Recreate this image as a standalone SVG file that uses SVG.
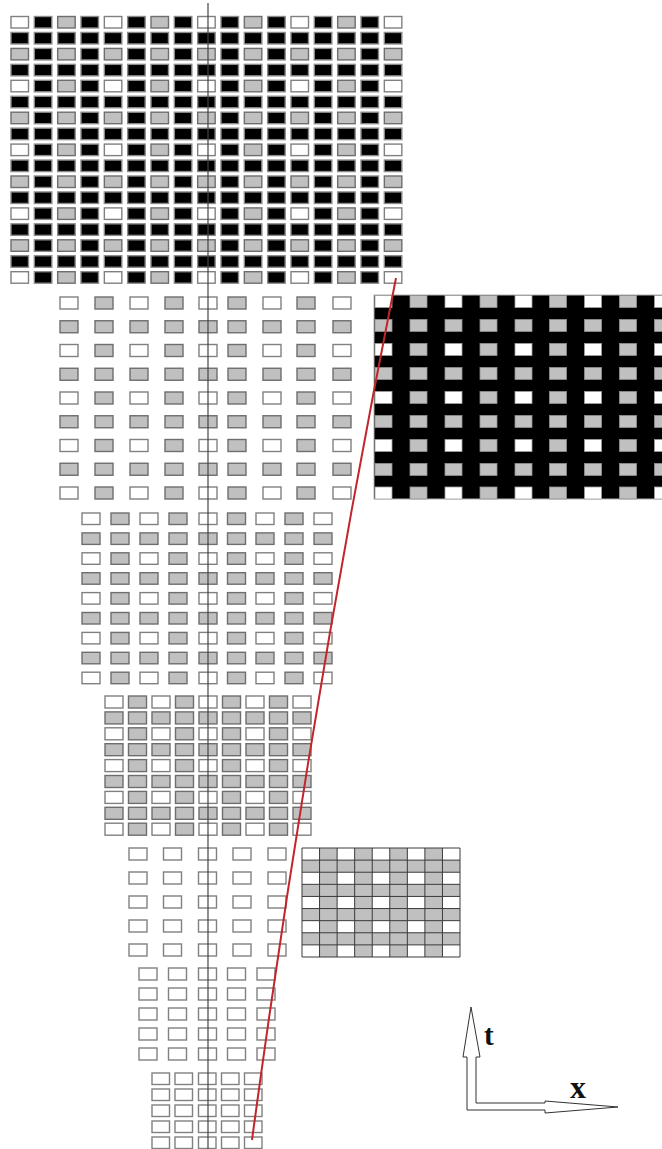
<svg xmlns="http://www.w3.org/2000/svg" xmlns:xlink="http://www.w3.org/1999/xlink" width="662" height="1149" viewBox="0 0 662 1149">
<style>
.w{fill:#fff;stroke:#808080;stroke-width:1.4}
.g{fill:#c0c0c0;stroke:#6e6e6e;stroke-width:1.4}
.k{fill:#000;stroke:#8a8a8a;stroke-width:1.4}
.rw{fill:#fff;stroke:#a0a0a0;stroke-width:0.8}
.rg{fill:#c0c0c0;stroke:#909090;stroke-width:0.8}
.lbl{font-family:"Liberation Serif",serif;font-weight:bold;fill:#111}
</style>
<defs>
<!-- top block rows -->
<g id="topA">
<rect class="w" x="11" width="17.5" height="11.5"/><rect class="k" x="34.33" width="17.5" height="11.5"/><rect class="g" x="57.67" width="17.5" height="11.5"/><rect class="k" x="81" width="17.5" height="11.5"/>
<rect class="w" x="104.33" width="17.5" height="11.5"/><rect class="k" x="127.67" width="17.5" height="11.5"/><rect class="g" x="151" width="17.5" height="11.5"/><rect class="k" x="174.33" width="17.5" height="11.5"/>
<rect class="w" x="197.67" width="17.5" height="11.5"/><rect class="k" x="221" width="17.5" height="11.5"/><rect class="g" x="244.33" width="17.5" height="11.5"/><rect class="k" x="267.67" width="17.5" height="11.5"/>
<rect class="w" x="291" width="17.5" height="11.5"/><rect class="k" x="314.33" width="17.5" height="11.5"/><rect class="g" x="337.67" width="17.5" height="11.5"/><rect class="k" x="361" width="17.5" height="11.5"/>
<rect class="w" x="384.33" width="17.5" height="11.5"/>
</g>
<g id="topC">
<rect class="g" x="11" width="17.5" height="11.5"/><rect class="k" x="34.33" width="17.5" height="11.5"/><rect class="g" x="57.67" width="17.5" height="11.5"/><rect class="k" x="81" width="17.5" height="11.5"/>
<rect class="g" x="104.33" width="17.5" height="11.5"/><rect class="k" x="127.67" width="17.5" height="11.5"/><rect class="g" x="151" width="17.5" height="11.5"/><rect class="k" x="174.33" width="17.5" height="11.5"/>
<rect class="g" x="197.67" width="17.5" height="11.5"/><rect class="k" x="221" width="17.5" height="11.5"/><rect class="g" x="244.33" width="17.5" height="11.5"/><rect class="k" x="267.67" width="17.5" height="11.5"/>
<rect class="g" x="291" width="17.5" height="11.5"/><rect class="k" x="314.33" width="17.5" height="11.5"/><rect class="g" x="337.67" width="17.5" height="11.5"/><rect class="k" x="361" width="17.5" height="11.5"/>
<rect class="g" x="384.33" width="17.5" height="11.5"/>
</g>
<g id="topD">
<rect class="k" x="11" width="17.5" height="11.5"/><rect class="k" x="34.33" width="17.5" height="11.5"/><rect class="k" x="57.67" width="17.5" height="11.5"/><rect class="k" x="81" width="17.5" height="11.5"/>
<rect class="k" x="104.33" width="17.5" height="11.5"/><rect class="k" x="127.67" width="17.5" height="11.5"/><rect class="k" x="151" width="17.5" height="11.5"/><rect class="k" x="174.33" width="17.5" height="11.5"/>
<rect class="k" x="197.67" width="17.5" height="11.5"/><rect class="k" x="221" width="17.5" height="11.5"/><rect class="k" x="244.33" width="17.5" height="11.5"/><rect class="k" x="267.67" width="17.5" height="11.5"/>
<rect class="k" x="291" width="17.5" height="11.5"/><rect class="k" x="314.33" width="17.5" height="11.5"/><rect class="k" x="337.67" width="17.5" height="11.5"/><rect class="k" x="361" width="17.5" height="11.5"/>
<rect class="k" x="384.33" width="17.5" height="11.5"/>
</g>
<!-- block 2 rows -->
<g id="b2E">
<rect class="w" x="60" width="18" height="12"/><rect class="g" x="95" width="18" height="12"/><rect class="w" x="130" width="18" height="12"/><rect class="g" x="165" width="18" height="12"/><rect class="w" x="199" width="18" height="12"/><rect class="g" x="228" width="18" height="12"/><rect class="w" x="263" width="18" height="12"/><rect class="g" x="297" width="18" height="12"/><rect class="w" x="333" width="18" height="12"/>
</g>
<g id="b2F">
<rect class="g" x="60" width="18" height="12"/><rect class="g" x="95" width="18" height="12"/><rect class="g" x="130" width="18" height="12"/><rect class="g" x="165" width="18" height="12"/><rect class="g" x="199" width="18" height="12"/><rect class="g" x="228" width="18" height="12"/><rect class="g" x="263" width="18" height="12"/><rect class="g" x="297" width="18" height="12"/><rect class="g" x="333" width="18" height="12"/>
</g>
<!-- right black block rows -->
<g id="rbE">
<rect class="rw" x="375" width="17" height="12"/><rect class="rg" x="410" width="17" height="12"/><rect class="rw" x="445" width="17" height="12"/><rect class="rg" x="480" width="17" height="12"/><rect class="rw" x="515" width="17" height="12"/><rect class="rg" x="549.5" width="17" height="12"/><rect class="rw" x="584.5" width="17" height="12"/><rect class="rg" x="619.5" width="17" height="12"/><rect class="rw" x="654.5" width="17" height="12"/>
</g>
<g id="rbF">
<rect class="rg" x="375" width="17" height="12"/><rect class="rg" x="410" width="17" height="12"/><rect class="rg" x="445" width="17" height="12"/><rect class="rg" x="480" width="17" height="12"/><rect class="rg" x="515" width="17" height="12"/><rect class="rg" x="549.5" width="17" height="12"/><rect class="rg" x="584.5" width="17" height="12"/><rect class="rg" x="619.5" width="17" height="12"/><rect class="rg" x="654.5" width="17" height="12"/>
</g>
<!-- block 3 rows -->
<g id="b3E">
<rect class="w" x="82" width="18" height="11.5"/><rect class="g" x="111" width="18" height="11.5"/><rect class="w" x="140" width="18" height="11.5"/><rect class="g" x="169" width="18" height="11.5"/><rect class="w" x="199" width="18" height="11.5"/><rect class="g" x="227.5" width="18" height="11.5"/><rect class="w" x="256" width="18" height="11.5"/><rect class="g" x="285" width="18" height="11.5"/><rect class="w" x="314" width="18" height="11.5"/>
</g>
<g id="b3F">
<rect class="g" x="82" width="18" height="11.5"/><rect class="g" x="111" width="18" height="11.5"/><rect class="g" x="140" width="18" height="11.5"/><rect class="g" x="169" width="18" height="11.5"/><rect class="g" x="199" width="18" height="11.5"/><rect class="g" x="227.5" width="18" height="11.5"/><rect class="g" x="256" width="18" height="11.5"/><rect class="g" x="285" width="18" height="11.5"/><rect class="g" x="314" width="18" height="11.5"/>
</g>
<!-- block 4 rows -->
<g id="b4E">
<rect class="w" x="105" width="18" height="12"/><rect class="g" x="128.5" width="18" height="12"/><rect class="w" x="152" width="18" height="12"/><rect class="g" x="175.5" width="18" height="12"/><rect class="w" x="199" width="18" height="12"/><rect class="g" x="222.5" width="18" height="12"/><rect class="w" x="246" width="18" height="12"/><rect class="g" x="269.5" width="18" height="12"/><rect class="w" x="293" width="18" height="12"/>
</g>
<g id="b4F">
<rect class="g" x="105" width="18" height="12"/><rect class="g" x="128.5" width="18" height="12"/><rect class="g" x="152" width="18" height="12"/><rect class="g" x="175.5" width="18" height="12"/><rect class="g" x="199" width="18" height="12"/><rect class="g" x="222.5" width="18" height="12"/><rect class="g" x="246" width="18" height="12"/><rect class="g" x="269.5" width="18" height="12"/><rect class="g" x="293" width="18" height="12"/>
</g>
<!-- block 5, 6, 7 rows -->
<g id="b5R">
<rect class="w" x="129" width="18" height="12"/><rect class="w" x="163.5" width="18" height="12"/><rect class="w" x="198.5" width="18" height="12"/><rect class="w" x="233" width="18" height="12"/><rect class="w" x="268" width="18" height="12"/>
</g>
<g id="b6R">
<rect class="w" x="139" width="18" height="12"/><rect class="w" x="168.5" width="18" height="12"/><rect class="w" x="198.5" width="18" height="12"/><rect class="w" x="227.5" width="18" height="12"/><rect class="w" x="257" width="18" height="12"/>
</g>
<g id="b7R">
<rect class="w" x="152" width="17.5" height="11.5"/><rect class="w" x="175" width="17.5" height="11.5"/><rect class="w" x="198.5" width="17.5" height="11.5"/><rect class="w" x="221.5" width="17.5" height="11.5"/><rect class="w" x="244.5" width="17.5" height="11.5"/>
</g>
<!-- checker white cells row -->
<g id="chW">
<rect x="302" width="17.56" height="12.11"/><rect x="337.11" width="17.56" height="12.11"/><rect x="372.22" width="17.56" height="12.11"/><rect x="407.33" width="17.56" height="12.11"/><rect x="442.44" width="17.56" height="12.11"/>
</g>
</defs>

<g id="block-top">
<use href="#topA" y="16.5"/><use href="#topD" y="32.45"/><use href="#topC" y="48.4"/><use href="#topD" y="64.35"/>
<use href="#topA" y="80.3"/><use href="#topD" y="96.25"/><use href="#topC" y="112.2"/><use href="#topD" y="128.15"/>
<use href="#topA" y="144.1"/><use href="#topD" y="160.05"/><use href="#topC" y="176"/><use href="#topD" y="191.95"/>
<use href="#topA" y="207.9"/><use href="#topD" y="223.85"/><use href="#topC" y="239.8"/><use href="#topD" y="255.75"/>
<use href="#topA" y="271.7"/>
</g>

<g id="block-2">
<use href="#b2E" y="297"/><use href="#b2F" y="320.75"/><use href="#b2E" y="344.5"/><use href="#b2F" y="368.25"/><use href="#b2E" y="392"/><use href="#b2F" y="415.75"/><use href="#b2E" y="439.5"/><use href="#b2F" y="463.25"/><use href="#b2E" y="487"/>
</g>

<g id="block-right">
<rect x="374" y="295" width="290" height="204" fill="#000" stroke="#b0b0b0" stroke-width="1"/>
<use href="#rbE" y="295.5"/><use href="#rbF" y="319.5"/><use href="#rbE" y="343.5"/><use href="#rbF" y="367.5"/><use href="#rbE" y="391.5"/><use href="#rbF" y="415.5"/><use href="#rbE" y="439.5"/><use href="#rbF" y="463.5"/><use href="#rbE" y="487"/>
</g>

<g id="block-3">
<use href="#b3E" y="513"/><use href="#b3F" y="532.9"/><use href="#b3E" y="552.8"/><use href="#b3F" y="572.7"/><use href="#b3E" y="592.6"/><use href="#b3F" y="612.5"/><use href="#b3E" y="632.4"/><use href="#b3F" y="652.3"/><use href="#b3E" y="672.2"/>
</g>

<g id="block-4">
<use href="#b4E" y="696"/><use href="#b4F" y="711.9"/><use href="#b4E" y="727.8"/><use href="#b4F" y="743.7"/><use href="#b4E" y="759.6"/><use href="#b4F" y="775.5"/><use href="#b4E" y="791.4"/><use href="#b4F" y="807.3"/><use href="#b4E" y="823.2"/>
</g>

<g id="block-5">
<use href="#b5R" y="848"/><use href="#b5R" y="872"/><use href="#b5R" y="896"/><use href="#b5R" y="920"/><use href="#b5R" y="944"/>
</g>

<g id="block-checker">
<rect x="302" y="848" width="158" height="109" fill="#c0c0c0"/>
<g fill="#fff">
<use href="#chW" y="848"/><use href="#chW" y="872.22"/><use href="#chW" y="896.44"/><use href="#chW" y="920.67"/><use href="#chW" y="944.89"/>
</g>
<path fill="none" stroke="#3a3a3a" stroke-width="1" d="M302,848V957M319.56,848V957M337.11,848V957M354.67,848V957M372.22,848V957M389.78,848V957M407.33,848V957M424.89,848V957M442.44,848V957M460,848V957M302,848H460M302,860.11H460M302,872.22H460M302,884.33H460M302,896.44H460M302,908.56H460M302,920.67H460M302,932.78H460M302,944.89H460M302,957H460"/>
</g>

<g id="block-6">
<use href="#b6R" y="968"/><use href="#b6R" y="988"/><use href="#b6R" y="1008"/><use href="#b6R" y="1028"/><use href="#b6R" y="1048"/>
</g>

<g id="block-7">
<use href="#b7R" y="1073"/><use href="#b7R" y="1089"/><use href="#b7R" y="1105"/><use href="#b7R" y="1121"/><use href="#b7R" y="1137"/>
</g>

<g id="connectors">
<line x1="208" y1="3" x2="208" y2="1149" stroke="#444" stroke-width="1.2"/>
<path d="M396,278 Q311,703 252,1140" fill="none" stroke="#c0262c" stroke-width="2"/>
</g>

<g id="axes">
<path d="M471,1007 L480,1057 L476,1057 L476,1103 L545,1103 L545,1101 L618,1107 L545,1113 L545,1110 L467,1110 L467,1057 L463,1057 Z" fill="#fff" stroke="#333" stroke-width="1"/>
<text class="lbl" x="484" y="1045" font-size="29">t</text>
<text class="lbl" x="570" y="1098" font-size="32">x</text>
</g>
</svg>
